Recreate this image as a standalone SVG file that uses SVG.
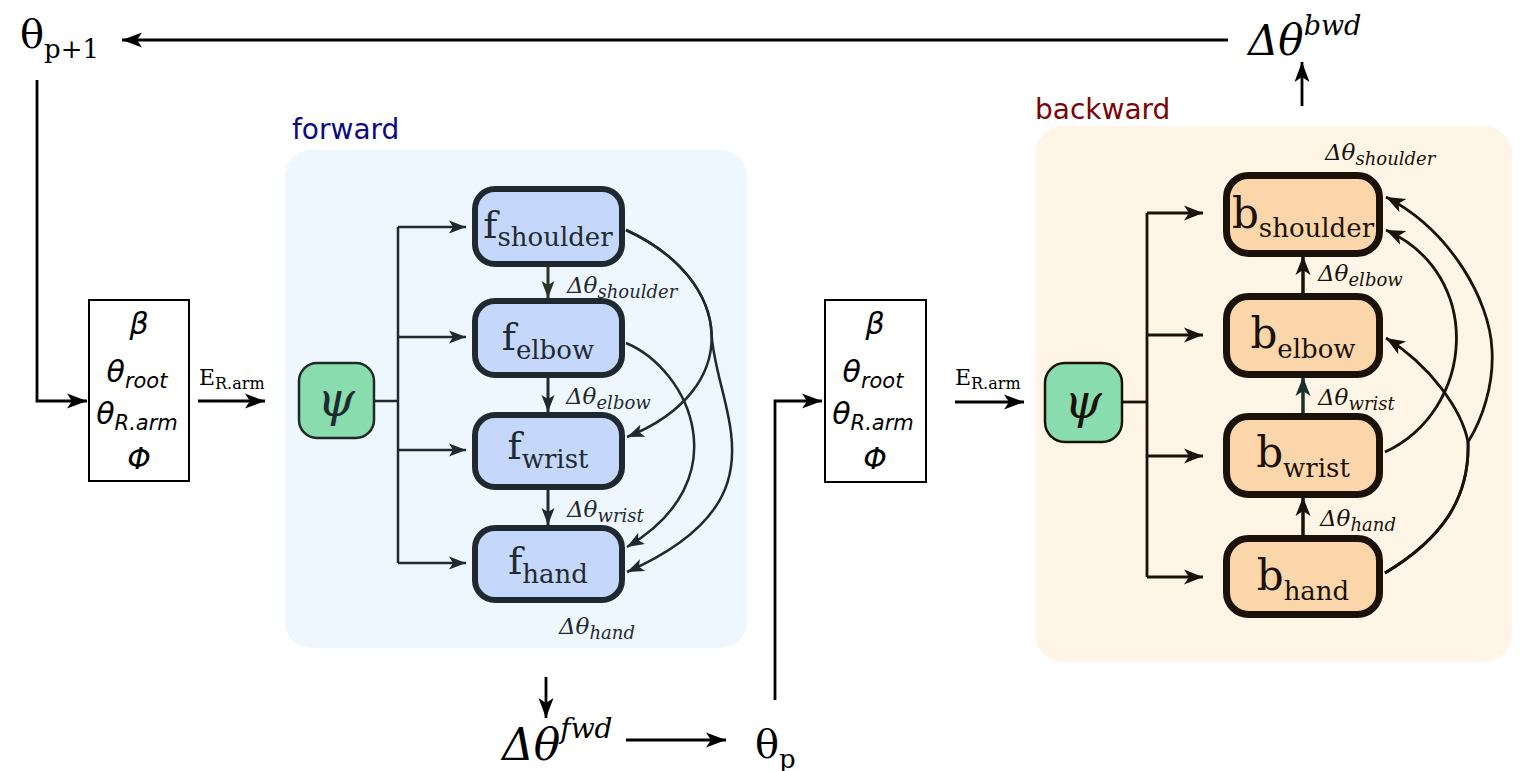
<svg xmlns="http://www.w3.org/2000/svg" width="1532" height="771" viewBox="0 0 1532 771">
<style>
.serif{font-family:"DejaVu Serif","Liberation Serif",serif;}
.it{font-family:"DejaVu Serif","Liberation Serif",serif;font-style:italic;}
.sans-it{font-family:"DejaVu Sans","Liberation Sans",sans-serif;font-style:italic;}
.panel-label{font-family:"DejaVu Sans","Liberation Sans",sans-serif;font-size:28px;}
.fnode{fill:#c5d8fb;stroke:#1f2a30;stroke-width:6;}
.bnode{fill:#fad6aa;stroke:#1a1208;stroke-width:7;}
.psi{fill:#88dcae;stroke:#1f2b2b;stroke-width:2.5;}
.vbox{fill:#ffffff;stroke:#000;stroke-width:2;}
.blk{fill:none;stroke:#000;stroke-width:2.8;}
.fc{fill:none;stroke:#1f2a30;stroke-width:2.5;}
.bc{fill:none;stroke:#1a1208;stroke-width:2.8;}
.ft{fill:#1f2a30;}
.bt{fill:#1a1208;}
</style>
<defs>
<marker id="ah" markerUnits="userSpaceOnUse" markerWidth="22" markerHeight="16" refX="20" refY="8" orient="auto"><path d="M0,0.5 L20,8 L0,15.5 L5,8 z" fill="#000"/></marker>
<marker id="ahf" markerUnits="userSpaceOnUse" markerWidth="20" markerHeight="16" refX="17" refY="8" orient="auto"><path d="M0,1.5 L17,8 L0,14.5 L4,8 z" fill="#1f2a30"/></marker>
<marker id="ahg" markerUnits="userSpaceOnUse" markerWidth="20" markerHeight="16" refX="17" refY="8" orient="auto"><path d="M0,1.5 L17,8 L0,14.5 L4,8 z" fill="#2b3526"/></marker>
<marker id="ahb" markerUnits="userSpaceOnUse" markerWidth="22" markerHeight="18" refX="19" refY="9" orient="auto"><path d="M0,1.5 L19,9 L0,16.5 L5,9 z" fill="#1a1208"/></marker>
<marker id="ahd" markerUnits="userSpaceOnUse" markerWidth="22" markerHeight="18" refX="19" refY="9" orient="auto"><path d="M0,1.5 L19,9 L0,16.5 L5,9 z" fill="#17302a"/></marker>
</defs>
<rect width="1532" height="771" fill="#ffffff"/>

<g id="forward-panel">
<rect x="285" y="150" width="462" height="498" rx="26" fill="#eef6fe"/>
<text class="panel-label" x="292" y="139" fill="#0c0c80">forward</text>
</g>
<g id="backward-panel">
<rect x="1035" y="126" width="477" height="536" rx="28" fill="#fef5e7"/>
<text class="panel-label" x="1035" y="119" fill="#7a0505">backward</text>
</g>

<g id="connectors">
<line class="blk" x1="1228" y1="40" x2="122" y2="40" marker-end="url(#ah)"/>
<path class="blk" d="M37,80 V401 H87" marker-end="url(#ah)"/>
<line class="blk" x1="198" y1="401" x2="265" y2="401" marker-end="url(#ah)"/>
<line class="blk" x1="1302" y1="106" x2="1302" y2="62" marker-end="url(#ah)"/>
<line class="blk" x1="546" y1="677" x2="546" y2="718" marker-end="url(#ah)"/>
<line class="blk" x1="626" y1="740" x2="726" y2="740" marker-end="url(#ah)"/>
<path class="blk" d="M775,700 V401 H822" marker-end="url(#ah)"/>
<line class="blk" x1="955" y1="402" x2="1024" y2="402" marker-end="url(#ah)"/>

<!-- forward fan -->
<path class="fc" d="M375,401 H398"/>
<line class="fc" x1="398" y1="227" x2="398" y2="563"/>
<line class="fc" x1="398" y1="227" x2="466" y2="227" marker-end="url(#ahf)"/>
<line class="fc" x1="398" y1="337" x2="466" y2="337" marker-end="url(#ahf)"/>
<line class="fc" x1="398" y1="450" x2="466" y2="450" marker-end="url(#ahf)"/>
<line class="fc" x1="398" y1="563" x2="466" y2="563" marker-end="url(#ahf)"/>

<!-- forward chain -->
<line x1="548" y1="267" x2="548" y2="298" stroke="#2b3526" stroke-width="3" marker-end="url(#ahg)"/>
<line x1="548" y1="378" x2="548" y2="412" stroke="#1f2a30" stroke-width="3" marker-end="url(#ahf)"/>
<line x1="548" y1="490" x2="548" y2="525" stroke="#1f2a30" stroke-width="3" marker-end="url(#ahf)"/>
<path class="fc" d="M626,230 C735,280 745,390 627,437" marker-end="url(#ahf)"/>
<path class="fc" d="M626,230 C680.5,255 710.25,295 711.6,334.6 C716,410 790,500 627,572" marker-end="url(#ahf)"/>
<path class="fc" d="M626,343 C690,370 740,480 627,547" marker-end="url(#ahf)"/>

<!-- backward fan -->
<path class="bc" d="M1123,402 H1147"/>
<line class="bc" x1="1147" y1="213" x2="1147" y2="577"/>
<line class="bc" x1="1147" y1="213" x2="1203" y2="213" marker-end="url(#ahb)"/>
<line class="bc" x1="1147" y1="335" x2="1203" y2="335" marker-end="url(#ahb)"/>
<line class="bc" x1="1147" y1="456" x2="1203" y2="456" marker-end="url(#ahb)"/>
<line class="bc" x1="1147" y1="577" x2="1203" y2="577" marker-end="url(#ahb)"/>

<!-- backward chain -->
<line x1="1303" y1="535" x2="1303" y2="497" stroke="#1a1208" stroke-width="3.5" marker-end="url(#ahb)"/>
<line x1="1303" y1="413" x2="1303" y2="377" stroke="#17302a" stroke-width="3.5" marker-end="url(#ahd)"/>
<line x1="1303" y1="293" x2="1303" y2="256" stroke="#1a1208" stroke-width="3.5" marker-end="url(#ahb)"/>
<path class="bc" d="M1385,452 C1475,410 1485,275 1386,230" marker-end="url(#ahb)"/>
<path class="bc" d="M1385,573 C1440,540 1470,500 1468,442 C1462,410 1430,365 1386,338" marker-end="url(#ahb)"/>
<path class="bc" d="M1385,573 C1440,540 1470,500 1468,442 C1482,420 1494,385 1492,350 C1490,300 1450,230 1386,197" marker-end="url(#ahb)"/>
</g>

<g id="theta-p1">
<text class="serif" x="20" y="48" font-size="40">θ<tspan font-size="26" dy="10">p+1</tspan></text>
</g>
<g id="dtheta-bwd">
<text class="it" x="1248" y="55" font-size="42">Δθ<tspan font-size="27" dy="-20">bwd</tspan></text>
</g>

<g id="vars-left">
<rect class="vbox" x="89" y="300" width="100" height="181"/>
<text class="sans-it" x="139" y="334" font-size="30" text-anchor="middle">β</text>
<text class="sans-it" x="137" y="382" font-size="30" text-anchor="middle">θ<tspan font-size="21" dy="6">root</tspan></text>
<text class="sans-it" x="137" y="424" font-size="30" text-anchor="middle">θ<tspan font-size="21" dy="6">R.arm</tspan></text>
<text class="sans-it" x="139" y="469" font-size="30" text-anchor="middle">Φ</text>
</g>
<g id="label-e1">
<text class="serif" x="199" y="385" font-size="22">E<tspan font-size="16" dy="4">R.arm</tspan></text>
</g>

<g id="psi-fwd">
<rect class="psi" x="299" y="363" width="75" height="75" rx="18"/>
<text class="it ft" x="336" y="416" font-size="48" text-anchor="middle">ψ</text>
</g>

<g id="f-shoulder">
<rect class="fnode" x="475" y="189" width="147" height="75" rx="20"/>
<text class="serif ft" x="548" y="238" font-size="38" text-anchor="middle">f<tspan font-size="26" dy="8">shoulder</tspan></text>
</g>
<g id="f-elbow">
<rect class="fnode" x="475" y="301" width="147" height="74" rx="20"/>
<text class="serif ft" x="548" y="350" font-size="38" text-anchor="middle">f<tspan font-size="26" dy="9">elbow</tspan></text>
</g>
<g id="f-wrist">
<rect class="fnode" x="475" y="415" width="147" height="72" rx="20"/>
<text class="serif ft" x="548" y="459" font-size="38" text-anchor="middle">f<tspan font-size="26" dy="9">wrist</tspan></text>
</g>
<g id="f-hand">
<rect class="fnode" x="475" y="528" width="147" height="72" rx="20"/>
<text class="serif ft" x="548" y="574" font-size="38" text-anchor="middle">f<tspan font-size="26" dy="9">hand</tspan></text>
</g>
<g id="flabels">
<text class="it ft" x="567" y="293" font-size="23">Δθ<tspan font-size="18" dy="5">shoulder</tspan></text>
<text class="it ft" x="566" y="404" font-size="23">Δθ<tspan font-size="18" dy="5">elbow</tspan></text>
<text class="it ft" x="567" y="517" font-size="23">Δθ<tspan font-size="18" dy="5">wrist</tspan></text>
<text class="it ft" x="559" y="634" font-size="23">Δθ<tspan font-size="18" dy="5">hand</tspan></text>
</g>

<g id="dtheta-fwd">
<text class="it" x="502" y="760" font-size="44">Δθ<tspan font-size="28" dy="-22">fwd</tspan></text>
</g>
<g id="theta-p">
<text class="serif" x="755" y="758" font-size="40">θ<tspan font-size="26" dy="10">p</tspan></text>
</g>

<g id="vars-mid">
<rect class="vbox" x="825" y="300" width="101" height="182"/>
<text class="sans-it" x="875" y="334" font-size="30" text-anchor="middle">β</text>
<text class="sans-it" x="873" y="382" font-size="30" text-anchor="middle">θ<tspan font-size="21" dy="6">root</tspan></text>
<text class="sans-it" x="873" y="424" font-size="30" text-anchor="middle">θ<tspan font-size="21" dy="6">R.arm</tspan></text>
<text class="sans-it" x="875" y="469" font-size="30" text-anchor="middle">Φ</text>
</g>
<g id="label-e2">
<text class="serif" x="955" y="385" font-size="22">E<tspan font-size="16" dy="4">R.arm</tspan></text>
</g>

<g id="psi-bwd">
<rect class="psi" x="1045" y="363" width="77" height="79" rx="20" style="stroke:#1a1208"/>
<text class="it bt" x="1083" y="418" font-size="48" text-anchor="middle">ψ</text>
</g>

<g id="b-shoulder">
<rect class="bnode" x="1226.5" y="175.5" width="153" height="78" rx="22"/>
<text class="serif bt" x="1303" y="228" font-size="42" text-anchor="middle">b<tspan font-size="26" dy="9">shoulder</tspan></text>
</g>
<g id="b-elbow">
<rect class="bnode" x="1226.5" y="296.5" width="153" height="78" rx="22"/>
<text class="serif bt" x="1303" y="348" font-size="42" text-anchor="middle">b<tspan font-size="26" dy="10">elbow</tspan></text>
</g>
<g id="b-wrist">
<rect class="bnode" x="1226.5" y="416.5" width="153" height="78" rx="22"/>
<text class="serif bt" x="1303" y="467" font-size="42" text-anchor="middle">b<tspan font-size="26" dy="10">wrist</tspan></text>
</g>
<g id="b-hand">
<rect class="bnode" x="1226.5" y="538.5" width="153" height="76" rx="22"/>
<text class="serif bt" x="1303" y="590" font-size="42" text-anchor="middle">b<tspan font-size="26" dy="10">hand</tspan></text>
</g>
<g id="blabels">
<text class="it bt" x="1325" y="160" font-size="23">Δθ<tspan font-size="18" dy="5">shoulder</tspan></text>
<text class="it bt" x="1318" y="281" font-size="23">Δθ<tspan font-size="18" dy="5">elbow</tspan></text>
<text class="it bt" x="1318" y="405" font-size="23">Δθ<tspan font-size="18" dy="5">wrist</tspan></text>
<text class="it bt" x="1320" y="526" font-size="23">Δθ<tspan font-size="18" dy="5">hand</tspan></text>
</g>
</svg>
